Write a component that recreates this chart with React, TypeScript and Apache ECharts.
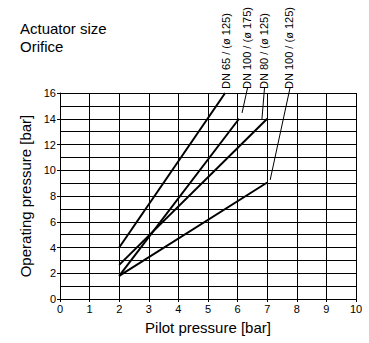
import React, { useEffect, useRef } from "react";
import * as echarts from "echarts";

const FONT = "'Liberation Sans', Arial, Helvetica, sans-serif";

// Series: [pilot pressure, operating pressure]
const seriesNames = ["DN 65 / (ø 125)", "DN 100 / (ø 175)", "DN 80 / (ø 125)", "DN 100 / (ø 125)"];
const dn65_125 = [[2, 4], [5.58, 16]];
const dn100_175 = [[2, 1.8], [6.05, 14]];
const dn80_125 = [[2, 2.65], [7, 14]];
const dn100_125 = [[2, 1.8], [7, 9.05]];

// Leader line end points (data coords) for the labels, null = no leader
const leaderTargets: (number[] | null)[] = [null, [6.15, 14.45], [6.82, 13.9], [7.1, 9.25]];
// label anchor x positions (pixels) - layout
const labelX = [226, 246.5, 263.5, 289];
const labelBottomY = 89;

export default function App() {
  const ref = useRef<HTMLDivElement>(null);
  useEffect(() => {
    if (!ref.current) return;
    const chart = echarts.init(ref.current, null, { renderer: "svg" });
    const lineSeries = [dn65_125, dn100_175, dn80_125, dn100_125].map((d, i) => ({
      type: "line",
      name: seriesNames[i],
      data: d,
      symbol: "none",
      lineStyle: { color: "#000", width: 2 },
      z: 5,
    }));
    chart.setOption({
      animation: false,
      textStyle: { fontFamily: FONT },
      grid: { left: 60, right: 13, top: 93, bottom: 44 },
      xAxis: {
        type: "value",
        min: 0,
        max: 10,
        interval: 1,
        name: "Pilot pressure [bar]",
        nameLocation: "middle",
        nameGap: 21,
        nameTextStyle: { fontSize: 15, color: "#000", fontFamily: FONT },
        axisLine: { show: true, lineStyle: { color: "#000", width: 1 } },
        axisTick: { show: true, length: 3, lineStyle: { color: "#000" } },
        axisLabel: { fontSize: 11, color: "#000", margin: 4, fontFamily: FONT },
        splitLine: { show: true, lineStyle: { color: "#000", width: 1 } },
      },
      yAxis: {
        type: "value",
        min: 0,
        max: 16,
        interval: 2,
        name: "Operating pressure [bar]",
        nameLocation: "middle",
        nameGap: 24,
        nameTextStyle: { fontSize: 15, color: "#000", fontFamily: FONT },
        axisLine: { show: true, lineStyle: { color: "#000", width: 1 } },
        axisTick: { show: true, length: 3, lineStyle: { color: "#000" } },
        axisLabel: { fontSize: 11, color: "#000", margin: 4, fontFamily: FONT },
        splitLine: { show: true, lineStyle: { color: "#000", width: 1 } },
        minorTick: { show: false, splitNumber: 2 },
        minorSplitLine: { show: true, lineStyle: { color: "#000", width: 1 } },
      },
      series: lineSeries,
    });

    const graphics: any[] = [
      {
        type: "text",
        x: 20,
        y: 28,
        style: { text: "Actuator size", fontSize: 15, fill: "#000", fontFamily: FONT, verticalAlign: "middle" },
      },
      {
        type: "text",
        x: 20,
        y: 46,
        style: { text: "Orifice", fontSize: 15, fill: "#000", fontFamily: FONT, verticalAlign: "middle" },
      },
    ];
    seriesNames.forEach((name, i) => {
      graphics.push({
        type: "text",
        x: labelX[i],
        y: labelBottomY,
        rotation: Math.PI / 2,
        style: { text: name, fontSize: 11, fill: "#000", fontFamily: FONT, align: "left", verticalAlign: "middle" },
      });
      const t = leaderTargets[i];
      if (t) {
        const p = chart.convertToPixel({ gridIndex: 0 }, t) as number[];
        graphics.push({
          type: "line",
          shape: { x1: labelX[i] + 1, y1: labelBottomY - 1, x2: p[0], y2: p[1] },
          style: { stroke: "#000", lineWidth: 1 },
          z: 10,
        });
      }
    });
    chart.setOption({ graphic: graphics });
    return () => chart.dispose();
  }, []);
  return <div ref={ref} style={{ position: "fixed", left: 0, top: 0, width: 369, height: 343, background: "#fff" }} />;
}
